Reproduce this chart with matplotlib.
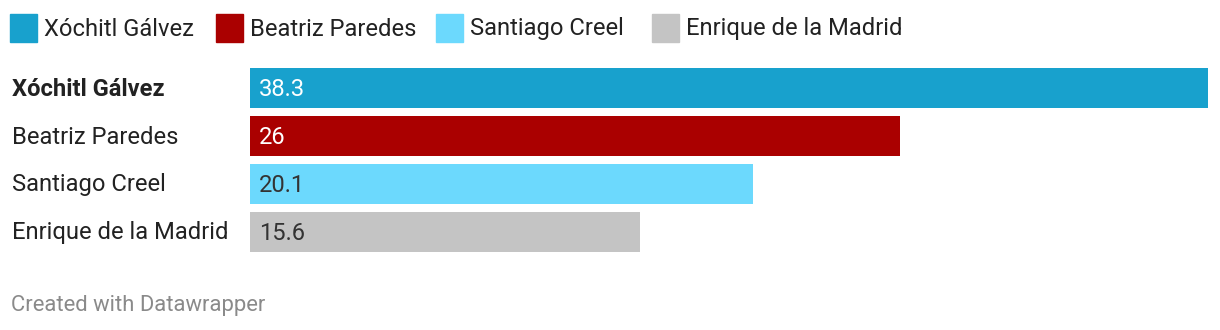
import matplotlib
matplotlib.use("Agg")
import matplotlib.pyplot as plt
from matplotlib.patches import Rectangle

candidates = ["Xóchitl Gálvez", "Beatriz Paredes", "Santiago Creel", "Enrique de la Madrid"]
values = [38.3, 26, 20.1, 15.6]
colors = ["#18a1cd", "#aa0000", "#6cd9fd", "#c4c4c4"]
label_colors = ["white", "white", "#333333", "#333333"]

plt.rcParams['font.family'] = ['Roboto', 'DejaVu Sans']
W, H = 1220, 330
fig = plt.figure(figsize=(W / 100, H / 100), dpi=100)

def fx(px):
    return px / W

def fy(py):
    return 1 - py / H

FS = 17.1

ax = fig.add_axes([fx(250), fy(252), fx(1208) - fx(250), fy(68) - fy(252)])
ypos = list(range(len(values)))
ax.barh(ypos, values, height=40 / 48, color=colors, align='center')
ax.set_xlim(0, max(values))
ax.set_ylim(len(values) - 1 + 40 / 96, -40 / 96)
ax.axis('off')

for i, (v, lc) in enumerate(zip(values, label_colors)):
    ax.annotate(f"{v:g}", xy=(0, i), xytext=(9, 1.5), textcoords='offset pixels',
                ha='left', va='center_baseline', color=lc, fontsize=FS)

for i, name in enumerate(candidates):
    ax.annotate(name, xy=(0, i), xycoords=('figure fraction', 'data'),
                xytext=(12, 1.5), textcoords='offset pixels', ha='left', va='center_baseline',
                color='#222222', fontsize=FS,
                fontweight='bold' if i == 0 else 'normal')

# legend (item left edges in pixels)
legend_x = [10, 216, 436, 652]
for x, name, c in zip(legend_x, candidates, colors):
    fig.patches.append(Rectangle((fx(x), fy(42)), fx(27), fy(14) - fy(42),
                                 transform=fig.transFigure, color=c))
    fig.text(fx(x + 34), fy(26.5), name, ha='left', va='center_baseline',
             fontsize=FS, color='#222222')

fig.text(fx(11), fy(303.5), "Created with Datawrapper", ha='left', va='center_baseline',
         fontsize=15.8, color='#8a8a8a')

fig.savefig("out.png", dpi=100, facecolor='white')
